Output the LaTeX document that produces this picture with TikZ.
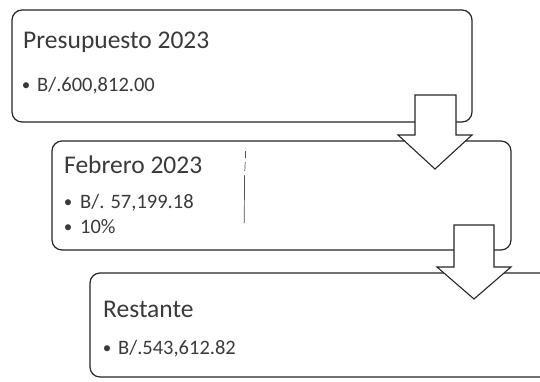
\documentclass[tikz,border=0pt]{standalone}
\usepackage{fontspec}
\setmainfont{Carlito}
\definecolor{ink}{HTML}{262626}
\definecolor{txt}{HTML}{3A3A3A}
\begin{document}
\begin{tikzpicture}[x=1pt,y=-1pt,
  box/.style={draw=ink, line width=1.2pt, rounded corners=10pt, fill=white, inner sep=0pt, outer sep=0pt, anchor=north west},
  blockarrow/.style={draw=ink, line width=1.1pt, fill=white, line join=miter},
  title/.style={anchor=base west, inner sep=0pt, text=txt, font=\fontsize{25.5}{30}\selectfont},
  item/.style={anchor=base west, inner sep=0pt, text=txt, font=\fontsize{20.5}{24}\selectfont},
  dot/.style={anchor=base, inner sep=0pt, text=txt, font=\fontsize{17}{20}\selectfont}]
\clip (0,0) rectangle (540,381);
\fill[white] (0,0) rectangle (540,381);
% boxes
\node[box, minimum width=460pt, minimum height=112pt] (b1) at (12,10) {};
\node[box, minimum width=459pt, minimum height=109pt] (b2) at (52,141) {};
\node[box, minimum width=480pt, minimum height=104pt] (b3) at (90,273) {};
% arrows
\coordinate (a1) at (435,95);
\draw[blockarrow] (a1) ++(-20,0) -- ++(41,0) -- ++(0,40) -- ++(16,0) -- (435,169) -- (398,135) -- (415,135) -- cycle;
\coordinate (a2) at (474,225);
\draw[blockarrow] (a2) ++(-20,0) -- ++(40,0) -- ++(0,42) -- ++(17,0) -- (474,299) -- (437,267) -- (454,267) -- cycle;
% scan mark
\draw[ink!80, line width=0.7pt] (245.5,151) -- (245.5,158) (245.2,162) -- (244.8,171) (244.6,175) -- (244.2,223);
% texts
\node[title] (t1) at (23,48) {Presupuesto 2023};
\node[dot] (d1) at (26,90) {•};
\node[item] (i1) at (37,91) {B/.600,812.00};
\node[title] (t2) at (64,173) {Febrero 2023};
\node[dot] (d2) at (68,207) {•};
\node[item] (i2) at (80,208) {B/. 57,199.18};
\node[dot] (d3) at (68,232) {•};
\node[item] (i3) at (80,233) {10\%};
\node[title] (t3) at (103,317) {Restante};
\node[dot] (d4) at (107,353) {•};
\node[item] (i4) at (118,354) {B/.543,612.82};
\end{tikzpicture}
\end{document}
